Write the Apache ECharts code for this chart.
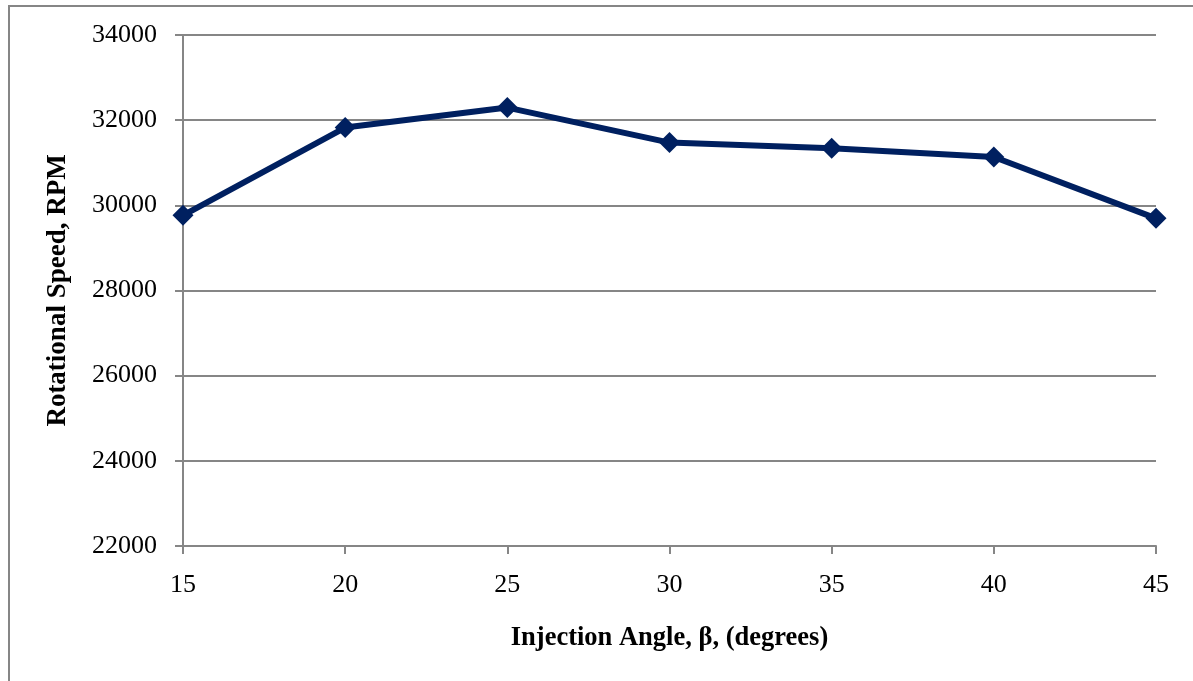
<!DOCTYPE html>
<html>
<head>
<meta charset="utf-8">
<script src="https://cdn.jsdelivr.net/npm/echarts@6/dist/echarts.min.js"></script>
<style>
  html, body { margin: 0; padding: 0; background: #fff; }
  #frame { position: absolute; left: 8px; top: 5px; width: 1200px; height: 700px;
           border-left: 2px solid #868686; border-top: 2px solid #868686; box-sizing: border-box; }
  #chart { position: absolute; left: 0; top: 0; width: 1193px; height: 681px; }
</style>
</head>
<body>
<div id="frame"></div>
<div id="chart"></div>
<script>
// Injection angle (degrees) and measured rotational speed (RPM)
const angles = [15, 20, 25, 30, 35, 40, 45];
const rpm = [29765, 31826, 32296, 31473, 31341, 31136, 29694];
const yTicks = [22000, 24000, 26000, 28000, 30000, 32000, 34000];

const serif = '"Liberation Serif", "Times New Roman", serif';
const axisGray = '#868686';

const chart = echarts.init(document.getElementById('chart'), null, { renderer: 'canvas' });
chart.setOption({
  animation: false,
  backgroundColor: 'transparent',
  grid: { left: 183, right: 37, top: 35, bottom: 135, containLabel: false },
  xAxis: {
    type: 'value',
    min: 15, max: 45, interval: 5,
    name: 'Injection Angle, β, (degrees)',
    nameLocation: 'middle',
    nameGap: 79,
    nameTextStyle: { fontFamily: serif, fontSize: 26.5, fontWeight: 'bold', color: '#000' },
    axisLine: { show: true, lineStyle: { color: axisGray, width: 2 } },
    axisTick: { show: true, length: 8, lineStyle: { color: axisGray, width: 2 } },
    axisLabel: { fontFamily: serif, fontSize: 26, color: '#000', margin: 26 },
    splitLine: { show: false }
  },
  yAxis: {
    type: 'value',
    min: yTicks[0], max: yTicks[yTicks.length - 1], interval: 2000,
    name: 'Rotational Speed, RPM',
    nameLocation: 'middle',
    nameGap: 111,
    nameTextStyle: { fontFamily: serif, fontSize: 27, fontWeight: 'bold', color: '#000' },
    axisLine: { show: true, lineStyle: { color: axisGray, width: 2 } },
    axisTick: { show: true, inside: false, length: 8, lineStyle: { color: axisGray, width: 2 } },
    axisLabel: { fontFamily: serif, fontSize: 26, color: '#000', margin: 26, formatter: v => String(v) },
    splitLine: { show: true, lineStyle: { color: axisGray, width: 2 } }
  },
  series: [{
    type: 'line',
    data: angles.map((a, i) => [a, rpm[i]]),
    symbol: 'diamond',
    symbolSize: 21,
    showAllSymbol: true,
    lineStyle: { color: '#002060', width: 6 },
    itemStyle: { color: '#002060', borderWidth: 0 },
    z: 5
  }]
});
</script>
</body>
</html>
